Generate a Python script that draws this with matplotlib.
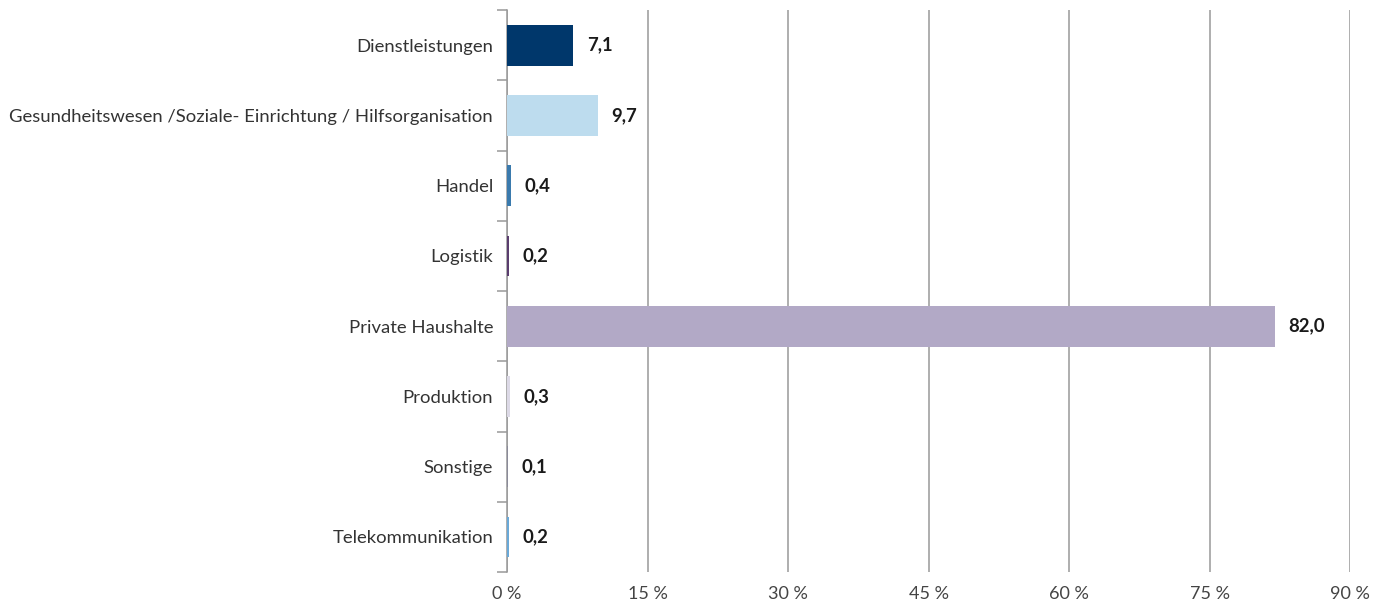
import numpy as np
import matplotlib.pyplot as plt

categories = ['Dienstleistungen',
              'Gesundheitswesen /Soziale- Einrichtung / Hilfsorganisation',
              'Handel', 'Logistik', 'Private Haushalte', 'Produktion',
              'Sonstige', 'Telekommunikation']
values = [7.1, 9.7, 0.4, 0.2, 82.0, 0.3, 0.1, 0.2]
colors = ['#00376b', '#bddcee', '#3a7aad', '#5a3d6e', '#b2a9c6',
          '#dcd9e6', '#8a8a99', '#6aa9d8']
xticks = [0, 15, 30, 45, 60, 75, 90]


def main():
    plt.rcParams['font.family'] = ['Lato', 'DejaVu Sans']

    fig = plt.figure(figsize=(13.89, 6.06), dpi=100)
    ax = fig.add_axes([0.365, 0.056, 0.607, 0.9275])

    y = np.arange(len(categories))
    ax.barh(y, values, height=0.58, color=colors, zorder=3)

    for yi, v in zip(y, values):
        ax.text(v + 1.45, yi, f'{v:.1f}'.replace('.', ','), va='center', ha='left',
                fontsize=13.3, fontweight='bold', color='#1a1a1a')

    ax.set_xlim(0, 90)
    ax.set_ylim(len(categories) - 0.5, -0.5)

    ax.set_xticks(xticks)
    ax.set_xticklabels([f'{t} %' for t in xticks], fontsize=13, color='#444444')
    ax.tick_params(axis='x', length=0, pad=10)
    ax.grid(axis='x', color='#999999', linewidth=1.1, zorder=0)

    ax.set_yticks(y)
    ax.set_yticklabels(categories, fontsize=13.3, color='#333333')
    ax.tick_params(axis='y', which='major', length=0, pad=10)
    ax.set_yticks(np.arange(len(categories) + 1) - 0.5, minor=True)
    ax.tick_params(axis='y', which='minor', length=7, color='#999999', width=1.1)

    for s in ['top', 'right', 'bottom']:
        ax.spines[s].set_visible(False)
    ax.spines['left'].set_color('#999999')
    ax.spines['left'].set_linewidth(1.1)

    fig.savefig('out.png', dpi=100)


if __name__ == '__main__':
    main()
